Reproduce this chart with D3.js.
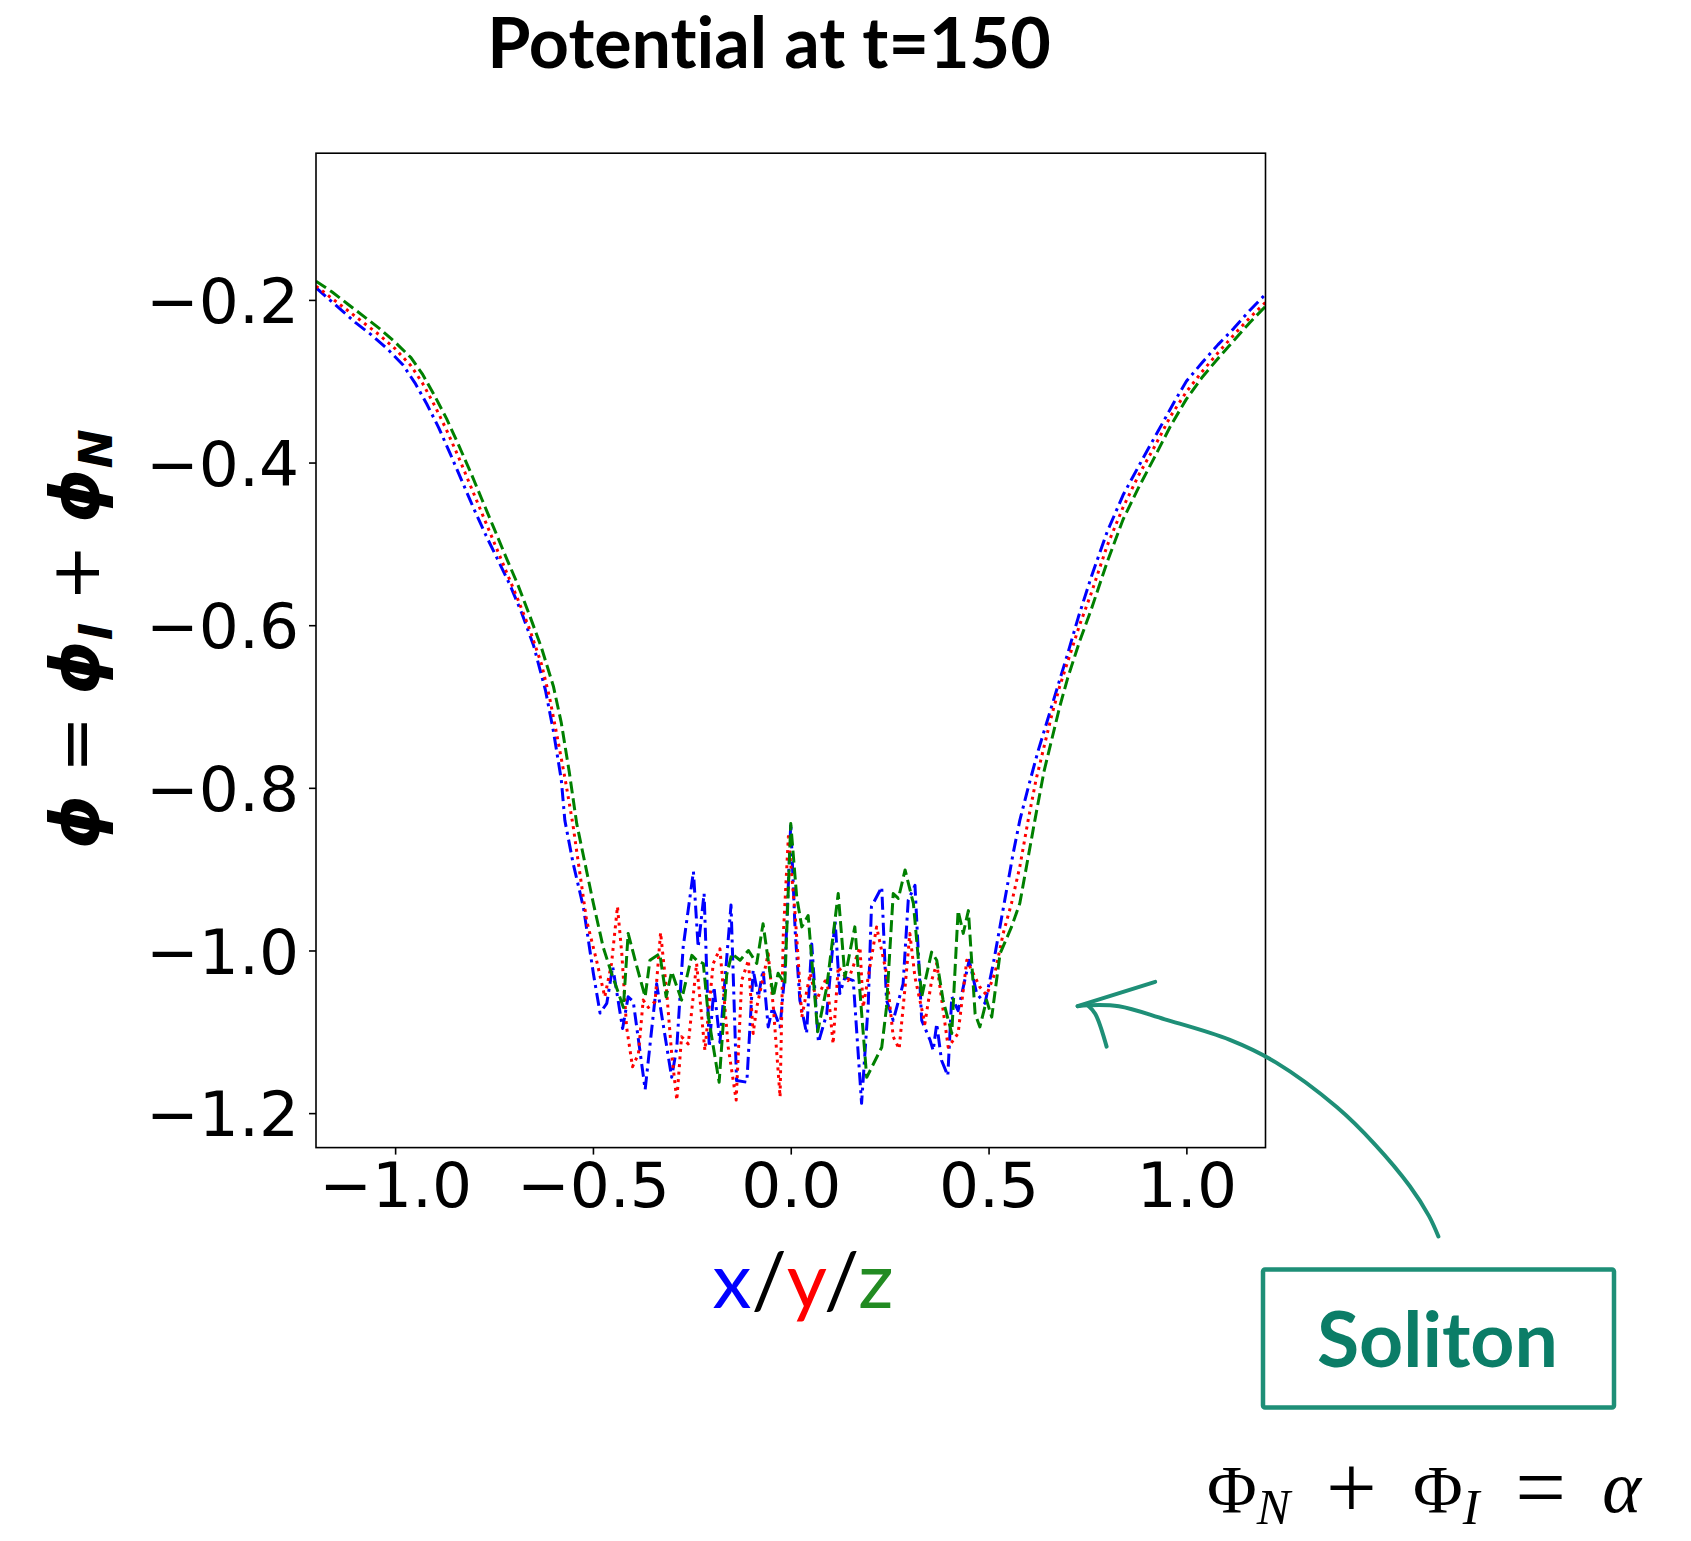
<!DOCTYPE html>
<html>
<head>
<meta charset="utf-8">
<script src="https://cdn.jsdelivr.net/npm/d3@7"></script>
<style>
  body { margin: 0; background: #fff; }
  svg { display: block; }
  text { font-variant-ligatures: none; }
</style>
</head>
<body>
<svg id="chart" width="1691" height="1541"></svg>
<script>
// Potential profiles along the three axes at t = 150
const xTicks = [-1.0, -0.5, 0.0, 0.5, 1.0];
const yTicks = [-1.2, -1.0, -0.8, -0.6, -0.4, -0.2];

// profile along x (blue, dash-dot)
const posX = [-1.20,-1.17,-1.13,-1.10,-1.06,-1.02,-0.98,-0.95,-0.92,-0.89,
  -0.86,-0.83,-0.80,-0.77,-0.74,-0.71,-0.68,-0.65,-0.62,-0.60,
  -0.58,-0.571,-0.550,-0.524,-0.499,-0.482,-0.465,-0.450,-0.425,-0.411,
  -0.398,-0.368,-0.339,-0.301,-0.288,-0.272,-0.246,-0.234,-0.219,-0.206,
  -0.194,-0.179,-0.151,-0.137,-0.111,-0.095,-0.082,-0.070,-0.057,-0.046,
  -0.027,-0.015,0.000,0.011,0.023,0.040,0.053,0.070,0.091,0.112,
  0.124,0.137,0.158,0.179,0.196,0.204,0.230,0.242,0.259,0.284,
  0.297,0.314,0.331,0.352,0.360,0.369,0.381,0.397,0.407,0.423,
  0.451,0.470,0.491,0.512,0.541,0.562,0.579,0.60,0.625,0.65,
  0.675,0.70,0.727,0.76,0.80,0.84,0.89,0.93,0.97,1.00,
  1.04,1.08,1.12,1.16,1.20];
const phiX = [-0.185,-0.198,-0.215,-0.228,-0.243,-0.260,-0.280,-0.302,-0.328,-0.357,
  -0.390,-0.424,-0.458,-0.490,-0.520,-0.550,-0.585,-0.625,-0.680,-0.730,
  -0.790,-0.840,-0.893,-0.947,-1.028,-1.077,-1.065,-1.020,-1.096,-1.057,
  -1.063,-1.171,-1.041,-1.156,-1.119,-0.996,-0.903,-0.996,-0.930,-1.119,
  -1.045,-1.113,-0.944,-1.160,-1.162,-1.024,-1.057,-1.024,-1.094,-1.070,
  -1.094,-1.028,-0.844,-0.975,-1.061,-1.102,-0.992,-1.113,-1.078,-0.963,
  -1.053,-1.033,-1.037,-1.188,-1.065,-0.946,-0.922,-1.061,-1.086,-1.041,
  -0.938,-0.920,-1.086,-1.110,-1.123,-1.090,-1.135,-1.154,-1.057,-1.074,
  -1.012,-1.053,-1.065,-1.016,-0.938,-0.881,-0.840,-0.800,-0.755,-0.715,
  -0.675,-0.635,-0.590,-0.540,-0.485,-0.440,-0.395,-0.360,-0.325,-0.300,
  -0.277,-0.255,-0.235,-0.213,-0.193];

// profile along y (red, dotted)
const posY = [-1.20,-1.16,-1.12,-1.08,-1.04,-1.00,-0.96,-0.93,-0.90,-0.87,
  -0.84,-0.81,-0.78,-0.75,-0.72,-0.69,-0.66,-0.63,-0.61,-0.59,
  -0.57,-0.551,-0.516,-0.491,-0.470,-0.453,-0.438,-0.427,-0.415,-0.400,
  -0.385,-0.373,-0.360,-0.343,-0.329,-0.314,-0.301,-0.288,-0.276,-0.259,
  -0.238,-0.217,-0.196,-0.179,-0.158,-0.138,-0.124,-0.107,-0.095,-0.086,
  -0.057,-0.044,-0.027,-0.019,-0.006,0.011,0.019,0.028,0.049,0.065,
  0.091,0.107,0.120,0.145,0.175,0.183,0.217,0.242,0.259,0.274,
  0.289,0.301,0.314,0.339,0.356,0.369,0.398,0.423,0.445,0.478,
  0.495,0.516,0.537,0.558,0.579,0.600,0.62,0.64,0.66,0.68,
  0.70,0.73,0.76,0.80,0.84,0.88,0.92,0.96,1.00,1.04,
  1.08,1.12,1.16,1.20];
const phiY = [-0.183,-0.198,-0.213,-0.228,-0.243,-0.260,-0.281,-0.303,-0.330,-0.360,
  -0.393,-0.428,-0.463,-0.498,-0.533,-0.568,-0.605,-0.648,-0.688,-0.738,
  -0.790,-0.844,-0.963,-1.012,-1.057,-1.016,-0.946,-1.004,-1.094,-1.143,
  -1.127,-1.061,-1.070,-1.063,-0.978,-1.049,-1.127,-1.184,-1.106,-1.115,
  -1.016,-1.123,-1.016,-0.998,-1.119,-1.184,-1.037,-1.012,-1.102,-1.070,
  -1.004,-1.070,-1.180,-0.983,-0.860,-0.955,-1.012,-1.082,-1.028,-1.061,
  -1.033,-1.115,-1.020,-1.037,-0.996,-1.070,-0.971,-1.028,-1.106,-1.121,
  -1.045,-0.979,-1.033,-1.090,-1.037,-1.016,-1.119,-1.102,-1.012,-1.045,
  -1.055,-1.028,-0.979,-0.942,-0.897,-0.840,-0.790,-0.750,-0.710,-0.675,
  -0.645,-0.600,-0.560,-0.502,-0.455,-0.415,-0.380,-0.343,-0.313,-0.288,
  -0.265,-0.243,-0.222,-0.203];

// profile along z (green, dashed)
const posZ = [-1.20,-1.16,-1.12,-1.08,-1.04,-1.00,-0.96,-0.93,-0.90,-0.87,
  -0.84,-0.81,-0.78,-0.75,-0.72,-0.69,-0.66,-0.63,-0.60,-0.58,
  -0.56,-0.541,-0.499,-0.474,-0.453,-0.423,-0.411,-0.389,-0.368,-0.356,
  -0.331,-0.315,-0.301,-0.276,-0.250,-0.238,-0.221,-0.208,-0.181,-0.162,
  -0.149,-0.128,-0.107,-0.086,-0.070,-0.044,-0.032,-0.015,0.000,0.015,
  0.028,0.044,0.068,0.091,0.120,0.137,0.162,0.192,0.230,0.242,
  0.259,0.272,0.289,0.310,0.331,0.356,0.369,0.385,0.407,0.423,
  0.436,0.449,0.466,0.478,0.495,0.508,0.529,0.558,0.579,0.617,
  0.64,0.66,0.68,0.70,0.73,0.76,0.80,0.84,0.88,0.92,
  0.96,1.00,1.04,1.08,1.12,1.16,1.20];
const phiZ = [-0.177,-0.190,-0.205,-0.220,-0.235,-0.252,-0.271,-0.292,-0.318,-0.346,
  -0.378,-0.411,-0.446,-0.481,-0.516,-0.550,-0.588,-0.628,-0.675,-0.720,
  -0.780,-0.844,-0.942,-0.996,-1.028,-1.070,-0.979,-1.020,-1.057,-1.012,
  -1.004,-1.057,-1.026,-1.061,-1.006,-1.012,-1.016,-1.082,-1.162,-1.030,
  -1.004,-1.012,-1.000,-1.016,-0.967,-1.057,-1.028,-1.041,-0.844,-0.934,
  -0.971,-0.957,-1.100,-1.045,-0.930,-1.033,-0.971,-1.156,-1.119,-1.070,
  -0.930,-0.936,-0.901,-0.942,-1.057,-1.002,-1.012,-1.061,-1.102,-0.951,
  -0.979,-0.951,-1.078,-1.094,-1.061,-1.082,-1.004,-0.971,-0.942,-0.840,
  -0.780,-0.740,-0.700,-0.665,-0.620,-0.580,-0.522,-0.470,-0.430,-0.393,
  -0.355,-0.322,-0.295,-0.272,-0.250,-0.228,-0.208];

const profiles = [
  { pos: posX, phi: phiX, color: "#0000ff", dash: "13,5,3,5" },
  { pos: posY, phi: phiY, color: "#ff0000", dash: "3,4.6" },
  { pos: posZ, phi: phiZ, color: "#008000", dash: "12,5" }
];

const svg = d3.select("#chart");
svg.append("rect").attr("width", 1691).attr("height", 1541).attr("fill", "#fff");

const plot = { left: 316, right: 1265.5, top: 153.2, bottom: 1147.6 };
const x = d3.scaleLinear().domain([-1.2, 1.2]).range([plot.left, plot.right]);
const y = d3.scaleLinear().domain([-1.2424, -0.0196]).range([plot.bottom, plot.top]);

svg.append("clipPath").attr("id", "plot-clip")
  .append("rect")
  .attr("x", plot.left).attr("y", plot.top)
  .attr("width", plot.right - plot.left).attr("height", plot.bottom - plot.top);

// profile lines
const line = d3.line().x(d => x(d[0])).y(d => y(d[1]));
const lines = svg.append("g").attr("clip-path", "url(#plot-clip)");
profiles.forEach(p => {
  lines.append("path")
    .datum(d3.zip(p.pos, p.phi))
    .attr("d", line)
    .attr("fill", "none")
    .attr("stroke", p.color)
    .attr("stroke-width", 3)
    .attr("stroke-dasharray", p.dash)
    .attr("stroke-linejoin", "round");
});

// axes
const fmt = d3.format(".1f");
const xAxis = svg.append("g")
  .attr("transform", `translate(0,${plot.bottom})`)
  .call(d3.axisBottom(x).tickValues(xTicks).tickSize(7).tickPadding(8).tickFormat(fmt));
const yAxis = svg.append("g")
  .attr("transform", `translate(${plot.left},0)`)
  .call(d3.axisLeft(y).tickValues(yTicks).tickSize(7).tickPadding(10).tickFormat(fmt));
[xAxis, yAxis].forEach(g => {
  g.select(".domain").remove();
  g.selectAll(".tick line").attr("stroke", "#000").attr("stroke-width", 1.6);
  g.selectAll(".tick text")
    .attr("fill", "#000")
    .style("font-family", "'DejaVu Sans', sans-serif")
    .style("font-size", "63px");
});
yAxis.selectAll(".tick text").attr("dy", "0.36em");

// frame
svg.append("rect")
  .attr("x", plot.left).attr("y", plot.top)
  .attr("width", plot.right - plot.left).attr("height", plot.bottom - plot.top)
  .attr("fill", "none").attr("stroke", "#000").attr("stroke-width", 1.6);

// title
svg.append("text")
  .attr("x", 769).attr("y", 68)
  .attr("text-anchor", "middle")
  .style("font-family", "Lato, 'Open Sans', sans-serif")
  .style("font-weight", "bold")
  .style("font-size", "70px")
  .attr("fill", "#000")
  .text("Potential at t=150");

// x label
const xl = svg.append("text")
  .attr("x", 803).attr("y", 1308)
  .attr("text-anchor", "middle")
  .style("font-family", "Lato, 'Open Sans', sans-serif")
  .style("font-size", "78px");
[["x", "#0000ff"], ["/", "#000"], ["y", "#ff0000"], ["/", "#000"], ["z", "#228b22"]]
  .forEach(([t, c]) => xl.append("tspan").attr("fill", c).text(t));

// y label
const yl = svg.append("text")
  .attr("transform", "translate(99,639) rotate(-90)")
  .attr("text-anchor", "middle")
  .style("font-family", "'DejaVu Sans', sans-serif")
  .style("font-size", "68px")
  .attr("fill", "#000");
const phiSpan = (sel) => sel.append("tspan").style("font-weight", "bold").style("font-style", "italic").text("\u03D5");
phiSpan(yl);
yl.append("tspan").text(" = ");
phiSpan(yl);
yl.append("tspan").attr("dy", 13).style("font-weight", "bold").style("font-style", "italic").style("font-size", "47px").text("I");
yl.append("tspan").attr("dy", -13).text(" + ");
phiSpan(yl);
yl.append("tspan").attr("dy", 13).style("font-weight", "bold").style("font-style", "italic").style("font-size", "47px").text("N");

// annotation: arrow pointing at the flat core
const teal = "#1e8f77";
const arrowPts = [[1438.4,1236.5],[1428.9,1215.9],[1409.7,1186],[1375.3,1144.8],[1337,1107.3],
  [1275.8,1062.4],[1229.9,1039.9],[1164.8,1019.3],[1118.9,1006.2],[1088,1005.2],[1077.6,1006.2]];
svg.append("path")
  .attr("d", d3.line().curve(d3.curveCatmullRom)(arrowPts))
  .attr("fill", "none").attr("stroke", teal).attr("stroke-width", 4)
  .attr("stroke-linecap", "round").attr("stroke-linejoin", "round");
svg.append("path")
  .attr("d", d3.line()([[1155.2,981.8],[1077.6,1006.2]]))
  .attr("fill", "none").attr("stroke", teal).attr("stroke-width", 4).attr("stroke-linecap", "round");
svg.append("path")
  .attr("d", d3.line().curve(d3.curveCatmullRom)([[1088,1005.5],[1095.2,1013.7],[1106.6,1046.6]]))
  .attr("fill", "none").attr("stroke", teal).attr("stroke-width", 4).attr("stroke-linecap", "round");

svg.append("rect")
  .attr("x", 1263).attr("y", 1269.5).attr("width", 351).attr("height", 138)
  .attr("rx", 2)
  .attr("fill", "none").attr("stroke", teal).attr("stroke-width", 4.5);
svg.append("text")
  .attr("x", 1437.5).attr("y", 1367)
  .attr("text-anchor", "middle")
  .style("font-family", "Lato, 'Open Sans', sans-serif")
  .style("font-weight", "bold")
  .style("font-size", "77px")
  .attr("fill", "#0b7d67")
  .text("Soliton");

// soliton condition, spaced out to its full width
const eqLeft = 1207, eqRight = 1641, eqBase = 1512;
const eq = svg.append("text")
  .attr("x", eqLeft).attr("y", eqBase)
  .style("font-family", "'Liberation Serif', 'DejaVu Serif', serif")
  .style("font-size", "68px")
  .attr("fill", "#000");
const parts = [
  { t: "\u03A6" },
  { t: "N", sub: true },
  { t: "+", gap: true, op: true },
  { t: "\u03A6", gap: true },
  { t: "I", sub: true },
  { t: "=", gap: true, op: true },
  { t: "\u03B1", gap: true, it: true }
];
const spans = parts.map(p => {
  const s = eq.append("tspan").text(p.t);
  if (p.sub) s.style("font-style", "italic").style("font-size", "50px");
  if (p.it) s.style("font-style", "italic").style("font-size", "74px");
  if (p.op) s.style("font-size", "90px");
  return s;
});
const natural = eq.node().getComputedTextLength();
const gap = (eqRight - eqLeft - natural) / parts.filter(p => p.gap).length;
let prevSub = false;
parts.forEach((p, i) => {
  let dy = 0;
  if (p.sub && !prevSub) dy = 12;
  if (!p.sub && prevSub) dy = -12;
  if (p.op) dy += 6;
  if (i > 0 && parts[i - 1].op) dy -= 6;
  spans[i].attr("dy", dy).attr("dx", p.gap ? gap : 0);
  prevSub = !!p.sub;
});
</script>
</body>
</html>
